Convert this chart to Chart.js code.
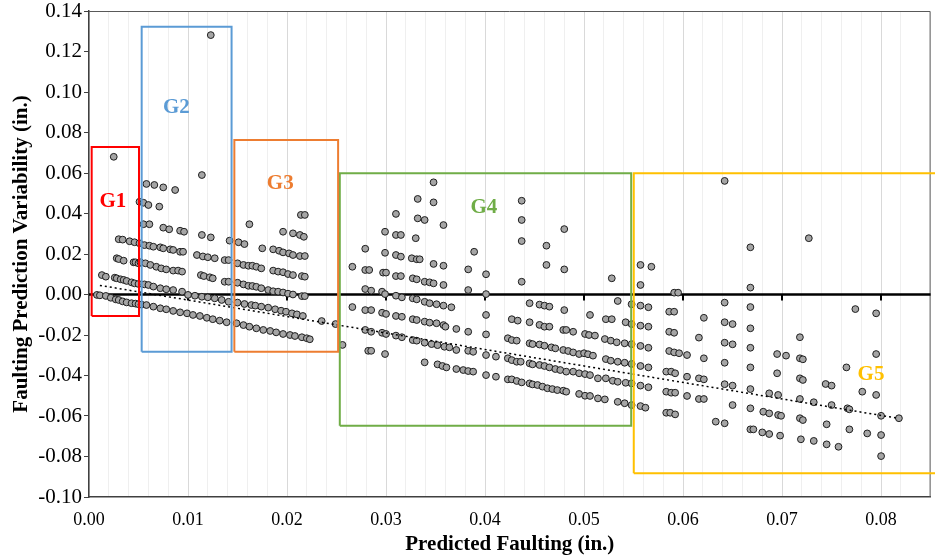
<!DOCTYPE html>
<html>
<head>
<meta charset="utf-8">
<script src="https://cdn.jsdelivr.net/npm/chart.js@4.4.1/dist/chart.umd.min.js"></script>
<style>
  html, body { margin: 0; padding: 0; background: #fff; }
  #wrap { width: 935px; height: 559px; }
</style>
</head>
<body>
<div id="wrap"><canvas id="cnv" width="935" height="559" style="width:935px;height:559px"></canvas></div>
<script>
"use strict";

// ---- data, [predicted faulting, variability] in inches
const g1Points = [
  [0.0025,0.0680],
  [0.0013,0.0096],[0.0017,0.0088],[0.0026,0.0083],[0.0028,0.0080],[0.0032,0.0075],[0.0035,0.0072],[0.0038,0.0067],[0.0043,0.0060],[0.0046,0.0055],[0.0050,0.0052],
  [0.0028,0.0179],[0.0030,0.0175],[0.0035,0.0167],[0.0045,0.0159],[0.0047,0.0159],[0.0050,0.0154],
  [0.0030,0.0273],[0.0034,0.0271],[0.0041,0.0263],[0.0046,0.0258],[0.0051,0.0253],
  [0.0008,-0.0002],[0.0011,-0.0004],[0.0017,-0.0007],[0.0022,-0.0016],[0.0027,-0.0024],[0.0030,-0.0027],[0.0034,-0.0034],[0.0038,-0.0039],[0.0043,-0.0043],[0.0047,-0.0045],[0.0050,-0.0048]
];
const g2Points = [
  [0.0058,0.0546],[0.0066,0.0541],[0.0075,0.0529],[0.0087,0.0516],
  [0.0051,0.0458],[0.0055,0.0453],[0.0060,0.0442],[0.0071,0.0434],
  [0.0123,0.1281],[0.0114,0.0590],
  [0.0055,0.0347],[0.0061,0.0347],[0.0075,0.0330],[0.0081,0.0322],[0.0092,0.0315],[0.0096,0.0310],[0.0114,0.0294],[0.0123,0.0282],[0.0142,0.0266],
  [0.0056,0.0244],[0.0061,0.0241],[0.0065,0.0236],[0.0072,0.0233],[0.0075,0.0228],[0.0082,0.0223],[0.0085,0.0220],[0.0092,0.0211],[0.0095,0.0211],[0.0109,0.0195],[0.0115,0.0188],[0.0120,0.0184],[0.0127,0.0179],[0.0137,0.0170],[0.0141,0.0170],
  [0.0052,0.0159],[0.0057,0.0154],[0.0062,0.0146],[0.0068,0.0137],[0.0073,0.0129],[0.0078,0.0124],[0.0085,0.0118],[0.0090,0.0118],[0.0094,0.0113],[0.0113,0.0096],[0.0116,0.0091],[0.0122,0.0085],[0.0125,0.0080],[0.0137,0.0063],[0.0141,0.0063],
  [0.0056,0.0050],[0.0060,0.0047],[0.0065,0.0039],[0.0072,0.0031],[0.0078,0.0026],[0.0085,0.0022],[0.0094,0.0014],[0.0100,-0.0002],[0.0107,-0.0006],[0.0114,-0.0011],[0.0120,-0.0014],[0.0127,-0.0019],[0.0134,-0.0027],[0.0141,-0.0036],
  [0.0053,-0.0050],[0.0058,-0.0052],[0.0065,-0.0060],[0.0072,-0.0068],[0.0078,-0.0073],[0.0085,-0.0081],[0.0092,-0.0088],[0.0099,-0.0093],[0.0105,-0.0101],[0.0112,-0.0106],[0.0119,-0.0115],[0.0125,-0.0122],[0.0132,-0.0129],[0.0139,-0.0137]
];
const g3Points = [
  [0.0151,0.0258],[0.0157,0.0249],[0.0162,0.0347],[0.0175,0.0228],
  [0.0196,0.0310],[0.0206,0.0302],[0.0213,0.0294],[0.0217,0.0285],[0.0214,0.0393],[0.0218,0.0393],
  [0.0186,0.0223],[0.0192,0.0216],[0.0196,0.0208],[0.0202,0.0203],[0.0206,0.0195],[0.0213,0.0190],[0.0218,0.0190],
  [0.0150,0.0154],[0.0156,0.0146],[0.0161,0.0142],[0.0165,0.0142],[0.0169,0.0137],[0.0174,0.0129],
  [0.0186,0.0118],[0.0191,0.0113],[0.0196,0.0110],[0.0201,0.0101],[0.0206,0.0096],[0.0215,0.0091],[0.0218,0.0088],
  [0.0150,0.0058],[0.0156,0.0050],[0.0161,0.0043],[0.0165,0.0042],[0.0169,0.0038],[0.0174,0.0031],
  [0.0181,0.0022],[0.0186,0.0016],[0.0191,0.0014],[0.0196,0.0010],[0.0201,0.0004],[0.0206,0.0000],[0.0215,-0.0008],[0.0218,-0.0008],
  [0.0150,-0.0040],[0.0157,-0.0047],[0.0164,-0.0052],[0.0168,-0.0055],[0.0174,-0.0060],[0.0181,-0.0065],[0.0188,-0.0073],[0.0194,-0.0080],[0.0199,-0.0085],[0.0205,-0.0093],[0.0210,-0.0098],[0.0216,-0.0106],
  [0.0149,-0.0142],[0.0156,-0.0151],[0.0162,-0.0159],[0.0169,-0.0167],[0.0176,-0.0175],[0.0183,-0.0180],[0.0189,-0.0187],[0.0196,-0.0195],[0.0203,-0.0200],[0.0208,-0.0205],[0.0215,-0.0211],[0.0220,-0.0216],[0.0223,-0.0221],
  [0.0235,-0.0131],[0.0249,-0.0146],[0.0256,-0.0249]
];
const g4Points = [
  [0.0266,0.0137],[0.0279,0.0226],[0.0279,0.0121],[0.0283,0.0121],[0.0279,0.0027],[0.0285,0.0019],[0.0266,-0.0062],[0.0279,-0.0077],[0.0285,-0.0077],[0.0279,-0.0175],[0.0285,-0.0184],[0.0282,-0.0278],[0.0285,-0.0278],
  [0.0299,0.0310],[0.0299,0.0206],[0.0297,0.0108],[0.0300,0.0108],[0.0296,0.0014],[0.0299,0.0002],[0.0296,-0.0090],[0.0300,-0.0096],[0.0296,-0.0189],[0.0300,-0.0195],[0.0299,-0.0294],
  [0.0310,0.0398],[0.0310,0.0294],[0.0315,0.0294],[0.0310,0.0195],[0.0315,0.0187],[0.0310,0.0091],[0.0315,0.0091],[0.0310,-0.0006],[0.0316,-0.0014],[0.0310,-0.0106],[0.0316,-0.0110],[0.0310,-0.0203],[0.0316,-0.0211],
  [0.0332,0.0472],[0.0332,0.0376],[0.0339,0.0368],[0.0330,0.0278],[0.0326,0.0179],[0.0331,0.0174],[0.0334,0.0174],
  [0.0327,0.0080],[0.0331,0.0075],[0.0339,0.0063],[0.0344,0.0060],
  [0.0327,-0.0019],[0.0331,-0.0024],[0.0339,-0.0036],[0.0344,-0.0043],[0.0351,-0.0048],[0.0358,-0.0055],[0.0366,-0.0063],
  [0.0327,-0.0122],[0.0331,-0.0126],[0.0339,-0.0134],[0.0344,-0.0139],[0.0351,-0.0142],[0.0358,-0.0151],[0.0360,-0.0159],[0.0371,-0.0170],
  [0.0327,-0.0225],[0.0331,-0.0228],[0.0339,-0.0238],[0.0346,-0.0245],[0.0352,-0.0250],[0.0359,-0.0258],[0.0364,-0.0261],[0.0371,-0.0274],
  [0.0339,-0.0335],[0.0352,-0.0345],[0.0357,-0.0353],[0.0361,-0.0360],[0.0371,-0.0368],[0.0378,-0.0373],[0.0383,-0.0378],[0.0388,-0.0381],
  [0.0348,0.0554],[0.0348,0.0455],[0.0358,0.0343],[0.0348,0.0151],[0.0358,0.0142],[0.0348,0.0055],[0.0358,0.0047],
  [0.0383,0.0124],[0.0389,0.0211],[0.0383,0.0022],[0.0383,-0.0184],[0.0383,-0.0278],[0.0388,-0.0283],
  [0.0401,0.0100],[0.0401,0.0002],[0.0401,-0.0101],[0.0401,-0.0197],[0.0401,-0.0299],[0.0411,-0.0307],[0.0401,-0.0398],[0.0411,-0.0406],
  [0.0437,0.0463],[0.0437,0.0368],[0.0437,0.0264],[0.0437,0.0063],
  [0.0462,0.0241],[0.0462,0.0146],[0.0480,0.0323],[0.0480,0.0124],[0.0528,0.0080],
  [0.0445,-0.0043],[0.0455,-0.0050],[0.0460,-0.0055],[0.0465,-0.0060],[0.0480,-0.0077],[0.0506,-0.0101],[0.0534,-0.0032],[0.0548,-0.0048],
  [0.0427,-0.0122],[0.0433,-0.0129],[0.0445,-0.0137],[0.0455,-0.0150],[0.0460,-0.0159],[0.0465,-0.0159],[0.0479,-0.0175],[0.0482,-0.0175],[0.0489,-0.0184],[0.0501,-0.0195],[0.0505,-0.0200],[0.0511,-0.0203],[0.0522,-0.0122],[0.0528,-0.0122],[0.0542,-0.0137],[0.0548,-0.0146],
  [0.0423,-0.0216],[0.0427,-0.0225],[0.0432,-0.0228],[0.0445,-0.0241],[0.0448,-0.0245],[0.0455,-0.0247],[0.0460,-0.0253],[0.0467,-0.0261],[0.0471,-0.0266],[0.0479,-0.0274],[0.0484,-0.0279],[0.0489,-0.0286],[0.0495,-0.0294],[0.0500,-0.0290],[0.0504,-0.0295],[0.0509,-0.0302],[0.0521,-0.0220],[0.0527,-0.0228],[0.0533,-0.0236],[0.0541,-0.0241],[0.0548,-0.0245],
  [0.0423,-0.0315],[0.0427,-0.0324],[0.0432,-0.0332],[0.0436,-0.0332],[0.0445,-0.0340],[0.0448,-0.0345],[0.0455,-0.0348],[0.0460,-0.0353],[0.0465,-0.0360],[0.0471,-0.0368],[0.0476,-0.0373],[0.0482,-0.0381],[0.0489,-0.0381],[0.0495,-0.0389],[0.0501,-0.0393],[0.0506,-0.0398],[0.0514,-0.0414],
  [0.0522,-0.0319],[0.0527,-0.0327],[0.0534,-0.0332],[0.0541,-0.0337],[0.0548,-0.0343],[0.0522,-0.0414],[0.0529,-0.0426],[0.0534,-0.0431],[0.0542,-0.0436],[0.0548,-0.0439],
  [0.0423,-0.0419],[0.0427,-0.0419],[0.0432,-0.0427],[0.0437,-0.0434],[0.0445,-0.0439],[0.0448,-0.0444],[0.0453,-0.0447],[0.0458,-0.0455],[0.0463,-0.0463],[0.0468,-0.0467],[0.0473,-0.0472],[0.0479,-0.0475],[0.0482,-0.0480],[0.0495,-0.0491],[0.0501,-0.0500],[0.0506,-0.0501],[0.0514,-0.0513],[0.0521,-0.0518],[0.0534,-0.0530],[0.0541,-0.0537],[0.0548,-0.0546]
];
const g5Points = [
  [0.0557,0.0146],[0.0568,0.0137],[0.0557,0.0047],[0.0591,0.0009],[0.0595,0.0009],[0.0642,0.0561],[0.0668,0.0233],[0.0668,0.0034],[0.0727,0.0278],
  [0.0557,-0.0055],[0.0565,-0.0063],[0.0586,-0.0085],[0.0591,-0.0085],[0.0621,-0.0115],[0.0642,-0.0040],[0.0668,-0.0062],[0.0774,-0.0072],[0.0795,-0.0093],
  [0.0557,-0.0154],[0.0565,-0.0159],[0.0586,-0.0184],[0.0591,-0.0189],[0.0616,-0.0213],[0.0642,-0.0137],[0.0650,-0.0146],[0.0668,-0.0167],
  [0.0557,-0.0254],[0.0565,-0.0263],[0.0586,-0.0279],[0.0591,-0.0286],[0.0596,-0.0290],[0.0604,-0.0299],[0.0621,-0.0315],[0.0642,-0.0238],[0.0650,-0.0246],[0.0668,-0.0263],[0.0718,-0.0211],[0.0695,-0.0294],[0.0704,-0.0302],[0.0795,-0.0294],
  [0.0557,-0.0353],[0.0565,-0.0360],[0.0583,-0.0381],[0.0588,-0.0381],[0.0592,-0.0389],[0.0604,-0.0406],[0.0616,-0.0414],[0.0621,-0.0419],[0.0642,-0.0337],[0.0668,-0.0360],[0.0695,-0.0389],[0.0718,-0.0315],[0.0721,-0.0320],[0.0765,-0.0360],
  [0.0718,-0.0414],[0.0721,-0.0422],[0.0744,-0.0442],[0.0750,-0.0450],
  [0.0557,-0.0450],[0.0565,-0.0458],[0.0583,-0.0480],[0.0588,-0.0485],[0.0592,-0.0485],[0.0604,-0.0501],[0.0616,-0.0516],[0.0621,-0.0516],[0.0642,-0.0443],[0.0650,-0.0450],[0.0668,-0.0467],[0.0687,-0.0488],[0.0696,-0.0496],[0.0718,-0.0516],[0.0732,-0.0532],[0.0750,-0.0546],[0.0766,-0.0562],[0.0768,-0.0567],[0.0781,-0.0480],[0.0795,-0.0496],
  [0.0557,-0.0551],[0.0562,-0.0559],[0.0583,-0.0584],[0.0587,-0.0584],[0.0592,-0.0592],[0.0633,-0.0628],[0.0642,-0.0636],[0.0650,-0.0546],[0.0668,-0.0562],[0.0681,-0.0579],[0.0687,-0.0587],[0.0696,-0.0595],[0.0699,-0.0599],
  [0.0668,-0.0666],[0.0671,-0.0666],[0.0680,-0.0681],[0.0687,-0.0689],[0.0698,-0.0697],[0.0718,-0.0611],[0.0721,-0.0620],[0.0719,-0.0715],[0.0732,-0.0723],[0.0745,-0.0641],[0.0745,-0.0740],[0.0757,-0.0752],[0.0768,-0.0666],[0.0786,-0.0686],[0.0800,-0.0599],[0.0800,-0.0694],[0.0800,-0.0798],[0.0818,-0.0611]
];

// dotted linear trend, its two ends as read
const trendEnds = [[0.0011,0.0045],[0.0817,-0.0611]];

// group boxes: [x left, x right, y bottom, y top] and where each label sits
const groupNames  = ['G1','G2','G3','G4','G5'];
const groupBoxes  = [
  [0.00027,0.00505,-0.0106,0.0728],
  [0.00532,0.01440,-0.0283,0.1322],
  [0.01468,0.02516,-0.0283,0.0763],
  [0.02533,0.05476,-0.0648,0.0599],
  [0.05502,0.08570,-0.0883,0.0599]
];
const groupLabelAt = [[0.00241,0.0457],[0.00883,0.0923],[0.01932,0.0548],[0.03988,0.0431],[0.07898,-0.0394]];

const xTicksMajor = 0.01, xTicksMinor = 0.002, yTickStep = 0.02;

// ---- style
const SERIF = "'Liberation Serif','Times New Roman',serif";
const groupColors = ['#FF0000','#5B9BD5','#ED7D31','#70AD47','#FFC000'];

function isMajor(v) { return Math.abs(v / xTicksMajor - Math.round(v / xTicksMajor)) < 1e-6; }
function fmt(v) { return Math.abs(v) < 1e-9 ? '0.00' : v.toFixed(2); }

const boxDatasets = groupBoxes.map((b, i) => ({
  data: [{x:b[0],y:b[2]},{x:b[1],y:b[2]},{x:b[1],y:b[3]},{x:b[0],y:b[3]},{x:b[0],y:b[2]}],
  showLine: true, fill: false, pointRadius: 0, borderWidth: 2,
  borderColor: groupColors[i], borderJoinStyle: 'miter', tension: 0,
  clip: i == 4 ? false : undefined, order: 0
}));

const allPoints = [].concat(g1Points, g2Points, g3Points, g4Points, g5Points);

const frame = {
  id: 'frame',
  beforeDatasetsDraw(chart) {
    const {ctx, chartArea: a, scales: {x, y}} = chart;
    ctx.save();
    // plot border top and right
    ctx.strokeStyle = '#595959';
    ctx.lineWidth = 1;
    ctx.beginPath();
    ctx.moveTo(a.left, a.top + 0.5); ctx.lineTo(a.right - 0.5, a.top + 0.5); ctx.lineTo(a.right - 0.5, a.bottom);
    ctx.stroke();
    // horizontal axis crossing at zero, with its tick marks
    const y0 = y.getPixelForValue(0);
    ctx.strokeStyle = '#000';
    ctx.lineWidth = 2.5;
    ctx.beginPath(); ctx.moveTo(a.left, y0); ctx.lineTo(a.right, y0); ctx.stroke();
    ctx.lineWidth = 2;
    x.ticks.forEach(t => {
      if (!isMajor(t.value) || t.value <= 0) return;
      const px = Math.round(x.getPixelForValue(t.value));
      ctx.beginPath(); ctx.moveTo(px, y0); ctx.lineTo(px, y0 + 6); ctx.stroke();
    });
    ctx.restore();
  },
  afterDatasetsDraw(chart) {
    const {ctx, scales: {x, y}} = chart;
    ctx.save();
    ctx.font = "bold 21px " + SERIF;
    ctx.textAlign = 'center';
    ctx.textBaseline = 'middle';
    groupNames.forEach((n, i) => {
      ctx.fillStyle = groupColors[i];
      ctx.fillText(n, x.getPixelForValue(groupLabelAt[i][0]), y.getPixelForValue(groupLabelAt[i][1]));
    });
    ctx.restore();
  }
};

new Chart(document.getElementById('cnv'), {
  type: 'scatter',
  data: {
    datasets: boxDatasets.concat([
      { data: trendEnds.map(p => ({x:p[0], y:p[1]})), showLine: true, pointRadius: 0,
        borderColor: '#000', borderWidth: 1.5, borderDash: [2, 3], order: 1 },
      { data: allPoints.map(p => ({x:p[0], y:p[1]})), pointRadius: 3.4, pointHoverRadius: 3.4,
        backgroundColor: '#A5A5A5', borderColor: '#1E1E1E', borderWidth: 1, order: 2 }
    ])
  },
  options: {
    responsive: false,
    animation: false,
    events: [],
    layout: { padding: { left: 0, right: 3, top: 11, bottom: 0 } },
    plugins: { legend: { display: false }, tooltip: { enabled: false } },
    scales: {
      x: {
        type: 'linear', min: 0, max: 0.085,
        afterFit: s => { s.height = 62; s.paddingLeft = 0; s.paddingRight = 0; },
        ticks: { stepSize: xTicksMinor, autoSkip: false, maxRotation: 0, padding: 12,
                 color: '#000', font: { family: SERIF, size: 18 },
                 callback: v => isMajor(v) ? fmt(v) : '' },
        grid: { drawTicks: false, lineWidth: 1,
                color: c => (c.tick && isMajor(c.tick.value)) ? '#D9D9D9' : '#EFEFEF' },
        border: { color: '#404040', width: 1.5 },
        title: { display: true, text: 'Predicted Faulting (in.)', color: '#000',
                 font: { family: SERIF, size: 21, weight: 'bold' }, padding: { top: 0, bottom: 2 } }
      },
      y: {
        type: 'linear', min: -0.10, max: 0.14,
        afterFit: s => { s.width = 89; s.paddingTop = 0; s.paddingBottom = 0; },
        ticks: { stepSize: yTickStep, padding: 2, color: '#000', font: { family: SERIF, size: 21 },
                 callback: v => fmt(v) },
        grid: { drawOnChartArea: false, drawTicks: true, tickLength: 5, color: '#404040' },
        border: { color: '#404040', width: 1.5 },
        title: { display: true, text: 'Faulting Prediction Variability (in.)', color: '#000',
                 font: { family: SERIF, size: 21, weight: 'bold' }, padding: { top: 9, bottom: 0 } }
      }
    }
  },
  plugins: [frame]
});
</script>
</body>
</html>
